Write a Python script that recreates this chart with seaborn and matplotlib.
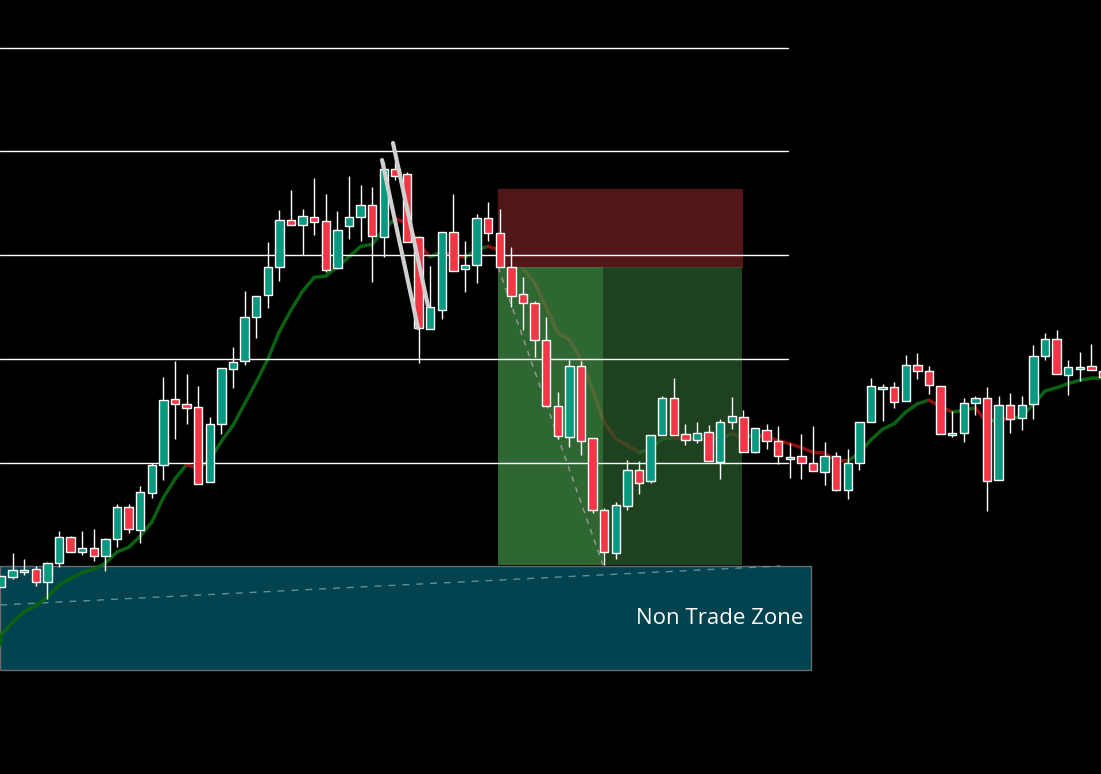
import numpy as np
import pandas as pd
import matplotlib
matplotlib.use("Agg")
import matplotlib.pyplot as plt
import seaborn as sns
from matplotlib.patches import Rectangle

# price values expressed in chart units (larger = lower on screen; axis inverted)
opens = [587,577,570,569,582,563,537,552,548,556,539,507,530,493,465,399,404,407,482,424,369,361,317,295,267,220,225,217,221,268,226,217,205,237,169,174,237,329,310,232,269,265,218,233,267,294,303,340,406,437,366,438,510,553,506,470,481,435,398,434,440,432,462,422,417,452,430,441,457,456,463,472,456,490,463,422,387,387,401,365,371,386,433,433,403,398,480,405,418,404,356,339,375,367,366,371]
highs = [576,553,559,566,562,531,536,531,529,538,504,504,486,463,377,361,374,386,417,368,347,291,296,242,210,190,209,178,194,211,176,185,187,162,162,172,236,266,232,194,241,214,202,209,247,277,301,317,392,360,361,438,508,502,460,461,435,396,378,424,422,425,419,397,410,428,424,426,443,434,426,442,452,449,422,378,384,382,355,353,366,386,411,398,396,387,396,393,396,345,333,330,360,352,344,365]
lows = [587,579,575,586,599,567,552,555,561,571,547,533,543,498,480,439,424,484,482,434,388,365,338,308,281,225,255,235,272,269,239,241,282,257,180,242,363,329,319,271,292,283,241,267,307,330,357,406,439,447,455,513,565,559,510,494,483,435,435,445,443,461,479,429,452,453,449,464,478,479,471,485,491,499,470,422,421,408,401,379,394,434,437,442,415,511,480,433,430,419,360,374,395,381,370,377]
closes = [576,570,570,582,563,537,552,548,556,539,507,529,492,465,400,404,408,484,424,368,362,317,296,267,220,225,216,222,270,230,217,205,236,169,176,242,328,307,232,271,265,218,233,267,296,303,340,406,436,366,441,510,552,505,470,483,435,398,435,440,433,461,422,416,452,428,441,456,457,463,471,456,490,463,422,386,387,402,365,371,385,434,433,403,398,481,405,419,405,356,339,374,367,367,370,377]
ema_seed = 650

levels = [48, 151, 255, 359, 463]
zone_label = "Non Trade Zone"

UP = "#089981"
DN = "#f23645"
PX = 11.6
def xi(px):
    return (px - 1) / PX

sns.set_style("dark")
fig = plt.figure(figsize=(11.01, 7.74), dpi=100, facecolor="black")
ax = fig.add_axes([0, 0, 1, 1])
ax.set_facecolor("black")
n = len(closes)
idx = np.arange(n)
df = pd.DataFrame({"i": idx, "o": opens, "h": highs, "l": lows, "c": closes})

# non-trade zone (background)
ax.add_patch(Rectangle((xi(0), 566), xi(811) - xi(0), 104, facecolor="#02434f", edgecolor="#6a6a6a", lw=1, zorder=0.5))
ax.plot([xi(0), xi(780)], [605, 566], color="#5e8f99", lw=1, ls=(0, (5, 5)), zorder=0.6)
ax.text(xi(803), 618, zone_label, color="white", fontsize=16, ha="right", va="center", family="Open Sans", zorder=8)

# EMA line coloured by slope
ema = pd.Series([ema_seed] + closes).ewm(span=9, adjust=False).mean().values[1:]
for k in range(1, n):
    col = "#0b6112" if ema[k] <= ema[k - 1] else "#8f0d0d"
    sns.lineplot(x=[k - 1, k], y=[ema[k - 1], ema[k]], ax=ax, color=col, lw=2.5, zorder=2)
sns.lineplot(x=[xi(0), 0], y=[ema_seed - 5, ema[0]], ax=ax, color="#0b6112", lw=2.5, zorder=2)

# position boxes
ax.add_patch(Rectangle((xi(498), 189), xi(742) - xi(498), 78, color="#521619", zorder=3))
ax.add_patch(Rectangle((xi(498), 267), xi(603) - xi(498), 298, color="#3f8a44", alpha=0.75, zorder=3, lw=0))
ax.add_patch(Rectangle((xi(603), 267), xi(742) - xi(603), 298, color="#2a5c2c", alpha=0.72, zorder=3, lw=0))
ax.plot([xi(498), xi(603)], [267, 565], color="#9a9a9a", lw=1, ls=(0, (4, 4)), zorder=4)

# horizontal levels
for y in levels:
    ax.plot([xi(0), xi(788)], [y, y], color="white", lw=1, zorder=4)

# candles
for _, r in df.iterrows():
    col = UP if r.c <= r.o else DN
    ax.vlines(r.i, r.h, r.l, color="white", lw=1, zorder=5)
    top, bot = min(r.o, r.c), max(r.o, r.c)
    hgt = max(bot - top, 1.5)
    ax.add_patch(Rectangle((r.i - 0.36, top), 0.72, hgt, facecolor=col, edgecolor="white", lw=1, zorder=5))

# drawn trend lines
ax.plot([xi(393), xi(428)], [143, 306], color="#d0d0d0", lw=3, solid_capstyle="round", zorder=9)
ax.plot([xi(382), xi(418)], [160, 328], color="#d0d0d0", lw=3, solid_capstyle="round", zorder=9)

ax.set_xlim(xi(0), xi(1101))
ax.set_ylim(774, 0)
ax.axis("off")
fig.savefig("out.png", dpi=100, facecolor="black")
